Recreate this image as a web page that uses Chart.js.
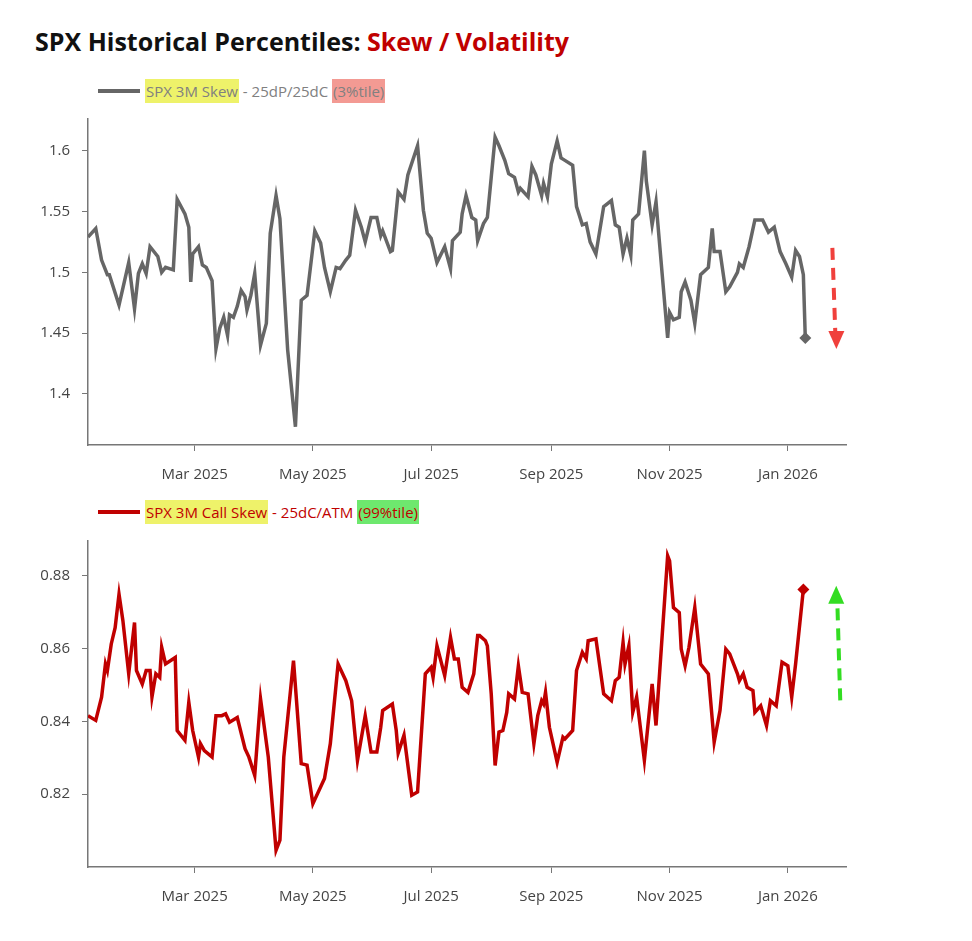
<!DOCTYPE html>
<html>
<head>
<meta charset="utf-8">
<script src="https://cdn.jsdelivr.net/npm/chart.js@4"></script>
<style>
  body { margin: 0; background: #fff; font-family: "Open Sans", sans-serif; }
  #wrap { position: relative; width: 972px; height: 941px; }
  h1 { position: absolute; left: 35px; top: 24px; margin: 0; font-size: 25px; font-weight: 700; color: #111; }
  h1 span { color: #c00000; }
  .legend { position: absolute; left: 98px; font-size: 15px; display: flex; align-items: center; }
  .legend i { display: inline-block; width: 42px; height: 4px; margin-right: 5px; }
  .hl { padding: 2px 1px; }
  .c1 { position: absolute; left: 0; }
</style>
</head>
<body>
<div id="wrap">
  <h1>SPX Historical Percentiles: <span>Skew / Volatility</span></h1>
  <div class="legend" style="top:79px;color:#808080">
    <i style="background:#666"></i><span class="hl" style="background:#eef26a">SPX 3M Skew</span>&nbsp;- 25dP/25dC&nbsp;<span class="hl" style="background:#f39a93">(3%tile)</span>
  </div>
  <div class="c1" style="top:98px;width:852px;height:402px"><canvas id="skewChart"></canvas></div>
  <div class="legend" style="top:500px;color:#c00000">
    <i style="background:#c00000"></i><span class="hl" style="background:#eef26a">SPX 3M Call Skew</span>&nbsp;- 25dC/ATM&nbsp;<span class="hl" style="background:#6ee86e">(99%tile)</span>
  </div>
  <div class="c1" style="top:520px;width:852px;height:402px"><canvas id="callChart"></canvas></div>
</div>
<script>
// x values are days since 1 Jan 2025
const tickDays = [59, 120, 181, 243, 304, 365];
const tickLabels = ['Mar 2025', 'May 2025', 'Jul 2025', 'Sep 2025', 'Nov 2025', 'Jan 2026'];

const skewDays = [4,8,11,14,15,20,25,28,30,32,34,36,40,42,44,48,50,54,56,57,58,61,63,65,68,70,72,74,76,77,79,81,83,85,86,88,90,93,96,98,101,103,107,111,114,117,121,124,126,129,132,134,137,139,142,145,147,150,153,155,156,160,161,164,167,169,174,177,179,181,184,188,191,192,196,197,199,202,204,205,
  208,210,212,214,216,219,221,224,226,227,231,233,235,238,239,241,243,246,248,250,254,256,259,261,263,266,270,274,276,278,280,282,284,285,288,291,292,295,297,298,303,304,306,309,310,312,315,317,320,324,326,327,330,333,335,339,340,342,345,348,352,355,358,361,364,367,369,371,373,374];
const skewValues = [1.529,1.536,1.510,1.498,1.498,1.473,1.508,1.470,1.499,1.507,1.499,1.521,1.513,1.500,1.504,1.502,1.560,1.548,1.537,1.492,1.515,1.521,1.506,1.504,1.493,1.437,1.454,1.463,1.448,1.465,1.463,1.472,1.485,1.480,1.469,1.481,1.499,1.440,1.458,1.532,1.563,1.544,1.436,1.373,1.477,1.481,1.534,1.524,1.504,1.484,1.504,1.503,1.510,1.514,1.551,1.537,1.525,1.545,1.545,1.530,1.534,1.517,1.518,1.566,1.560,1.580,1.604,1.551,1.532,1.528,1.508,1.521,1.503,1.526,1.533,1.548,1.563,1.545,1.543,1.526,
  1.540,1.545,1.578,1.611,1.604,1.592,1.581,1.578,1.566,1.569,1.562,1.587,1.580,1.563,1.573,1.562,1.589,1.608,1.594,1.592,1.588,1.554,1.539,1.540,1.525,1.515,1.554,1.559,1.539,1.537,1.515,1.528,1.514,1.543,1.548,1.600,1.575,1.539,1.558,1.539,1.446,1.467,1.461,1.463,1.484,1.492,1.477,1.458,1.498,1.504,1.536,1.517,1.517,1.484,1.488,1.500,1.507,1.504,1.521,1.543,1.543,1.533,1.537,1.517,1.507,1.496,1.518,1.513,1.498,1.446];

const callDays = [4,8,11,13,14,16,18,20,22,25,28,29,32,34,36,37,39,41,42,44,49,50,54,56,58,61,62,64,68,70,73,75,77,81,85,87,90,93,97,101,103,105,110,114,117,120,126,129,133,137,140,143,147,150,153,155,156,161,163,164,167,171,174,178,181,182,184,188,191,193,195,197,200,203,205,
  206,209,210,212,214,216,218,220,221,224,226,228,231,234,236,238,239,240,242,246,249,250,254,256,259,261,262,266,270,274,276,278,280,281,283,285,287,291,295,297,303,304,306,309,310,312,314,317,320,324,327,330,333,335,339,340,342,344,347,348,351,354,356,359,362,365,367,369,373,374];
const callValues = [0.8416,0.8403,0.8467,0.8558,0.854,0.8613,0.8658,0.875,0.8677,0.8531,0.8672,0.854,0.8503,0.854,0.854,0.8467,0.8531,0.8521,0.8604,0.8558,0.8576,0.8375,0.8348,0.8453,0.8375,0.8302,0.8339,0.832,0.8302,0.8416,0.8416,0.8421,0.8398,0.8411,0.8325,0.8302,0.8252,0.8462,0.8302,0.8046,0.8074,0.8302,0.8567,0.8284,0.828,0.8174,0.8243,0.8339,0.8558,0.8512,0.8457,0.8293,0.8416,0.8316,0.8316,0.8384,0.843,0.8448,0.8375,0.8313,0.8362,0.8197,0.8206,0.8531,0.8549,0.8521,0.8608,0.8526,0.8631,0.8572,0.8572,0.8494,0.848,0.8531,0.8636,
  0.8636,0.8622,0.8608,0.8476,0.8279,0.8371,0.8375,0.8425,0.8476,0.8462,0.8553,0.848,0.8476,0.8339,0.8416,0.8457,0.8448,0.848,0.8384,0.8288,0.8357,0.8352,0.8375,0.854,0.859,0.8572,0.8622,0.8627,0.8476,0.8457,0.8512,0.8521,0.8617,0.8558,0.8608,0.8425,0.8467,0.8293,0.8503,0.8389,0.8855,0.8841,0.8713,0.8699,0.8599,0.8553,0.8604,0.8713,0.8558,0.8531,0.8343,0.843,0.8599,0.8586,0.8531,0.8512,0.8531,0.8494,0.8485,0.8425,0.8443,0.8389,0.8457,0.8443,0.8563,0.8553,0.8467,0.8558,0.8763];

const skewTicks = [1.4, 1.45, 1.5, 1.55, 1.6];
const callTicks = [0.82, 0.84, 0.86, 0.88];

function toPoints(days, vals) {
    const n = Math.min(days.length, vals.length);
    const pts = [];
    for (let i = 0; i < n; i++) pts.push({ x: days[i], y: vals[i] });
    return pts;
}

// dashed arrow drawn in data units
function arrowPlugin(day, from, to, color) {
    return {
        id: 'arrow',
        afterDatasetsDraw(chart) {
            const { ctx, scales } = chart;
            const x = scales.x.getPixelForValue(day);
            const y0 = scales.y.getPixelForValue(from);
            const y1 = scales.y.getPixelForValue(to);
            const dir = y1 > y0 ? 1 : -1;
            ctx.save();
            ctx.strokeStyle = color;
            ctx.fillStyle = color;
            ctx.lineWidth = 4;
            ctx.setLineDash([12, 8]);
            ctx.beginPath();
            ctx.moveTo(x - 2 * dir, y0);
            ctx.lineTo(x + 1 * dir, y1 - dir * 14);
            ctx.stroke();
            ctx.setLineDash([]);
            ctx.beginPath();
            ctx.moveTo(x + dir * 2, y1);
            ctx.lineTo(x + dir * 2 - 8, y1 - dir * 18);
            ctx.lineTo(x + dir * 2 + 8, y1 - dir * 18);
            ctx.closePath();
            ctx.fill();
            ctx.restore();
        }
    };
}

function makeChart(id, days, vals, color, yMin, yMax, ticks, arrow) {
    const points = toPoints(days, vals);
    const last = points.length - 1;
    return new Chart(document.getElementById(id), {
        type: 'line',
        data: {
            datasets: [{
                data: points,
                borderColor: color,
                backgroundColor: color,
                borderWidth: 3.5,
                tension: 0,
                pointStyle: 'rectRot',
                pointRadius: ctx => ctx.dataIndex === last ? 6 : 0,
                pointBorderWidth: 0
            }]
        },
        options: {
            responsive: true,
            maintainAspectRatio: false,
            animation: false,
            layout: { padding: { top: 8, right: 2 } },
            plugins: { legend: { display: false }, tooltip: { enabled: false } },
            scales: {
                x: {
                    type: 'linear',
                    min: 4,
                    max: 395,
                    afterBuildTicks: axis => { axis.ticks = tickDays.map(v => ({ value: v })); },
                    afterFit: axis => { axis.height = 55; },
                    ticks: {
                        autoSkip: false,
                        maxRotation: 0,
                        padding: 15,
                        color: '#444',
                        font: { family: 'Open Sans', size: 15 },
                        callback: v => tickLabels[tickDays.indexOf(v)]
                    },
                    grid: { drawOnChartArea: false, tickLength: 6, color: '#777' },
                    border: { color: '#777', width: 1.5 }
                },
                y: {
                    min: yMin,
                    max: yMax,
                    afterBuildTicks: axis => { axis.ticks = ticks.map(v => ({ value: v })); },
                    afterFit: axis => { axis.width = 88; },
                    ticks: {
                        padding: 12,
                        color: '#444',
                        font: { family: 'Open Sans', size: 15 },
                        callback: v => String(+v.toFixed(2))
                    },
                    grid: { drawOnChartArea: false, tickLength: 6, color: '#777' },
                    border: { color: '#777', width: 1.5 }
                }
            }
        },
        plugins: [arrowPlugin(arrow[0], arrow[1], arrow[2], arrow[3])]
    });
}

makeChart('skewChart', skewDays, skewValues, '#666666', 1.358, 1.626, skewTicks, [389, 1.52, 1.437, '#f0403c']);
makeChart('callChart', callDays, callValues, '#c00000', 0.80, 0.8896, callTicks, [391, 0.8458, 0.8773, '#33dd22']);
</script>
</body>
</html>
